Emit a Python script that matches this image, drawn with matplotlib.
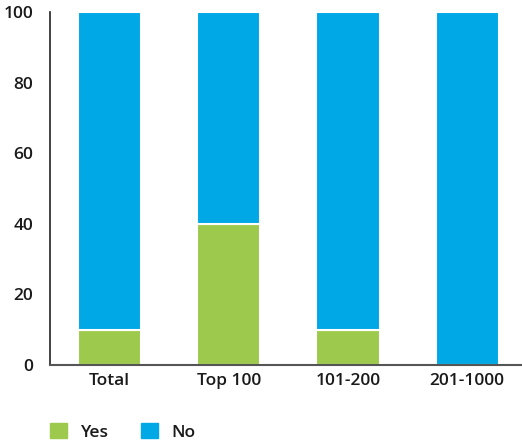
import matplotlib.pyplot as plt
from matplotlib.patches import Patch

categories = ['Total', 'Top 100', '101-200', '201-1000']
yes_vals = [10, 40, 10, 0]
no_vals = [90, 60, 90, 100]

green = '#9dca4c'
blue = '#00a9e6'
text_col = '#1a1a1a'

plt.rcParams['font.family'] = ['Open Sans', 'DejaVu Sans']
plt.rcParams['font.weight'] = 'semibold'

fig = plt.figure(figsize=(5.22, 4.43), dpi=100)
ax = fig.add_axes([0.096, 0.176, 0.904, 0.797])

x = range(len(categories))
ax.bar(x, yes_vals, width=0.53, color=green, edgecolor='white', linewidth=1.5)
ax.bar(x, no_vals, width=0.53, bottom=yes_vals, color=blue, edgecolor='white', linewidth=1.5)

ax.set_xlim(-0.5, 3.46)
ax.set_ylim(0, 100)
ax.set_yticks(range(0, 101, 20))
ax.set_xticks(list(x))
ax.set_xticklabels(categories)
ax.tick_params(axis='both', length=0, labelsize=12.5, colors=text_col)
ax.tick_params(axis='y', pad=12)
ax.tick_params(axis='x', pad=6)

for s in ['top', 'right']:
    ax.spines[s].set_visible(False)
ax.spines['left'].set_color('#222222')
ax.spines['left'].set_linewidth(1.2)
ax.spines['bottom'].set_color('#555555')
ax.spines['bottom'].set_linewidth(1.5)

handles = [Patch(color=green, label='Yes'), Patch(color=blue, label='No')]
fig.legend(handles=handles, loc='lower left', bbox_to_anchor=(0.096, 0.005), ncol=2,
           frameon=False, fontsize=12.5, handlelength=0.95, handleheight=0.95,
           handletextpad=0.8, columnspacing=1.9, borderaxespad=0, borderpad=0,
           labelcolor=text_col)

fig.savefig('out.png', dpi=100)
